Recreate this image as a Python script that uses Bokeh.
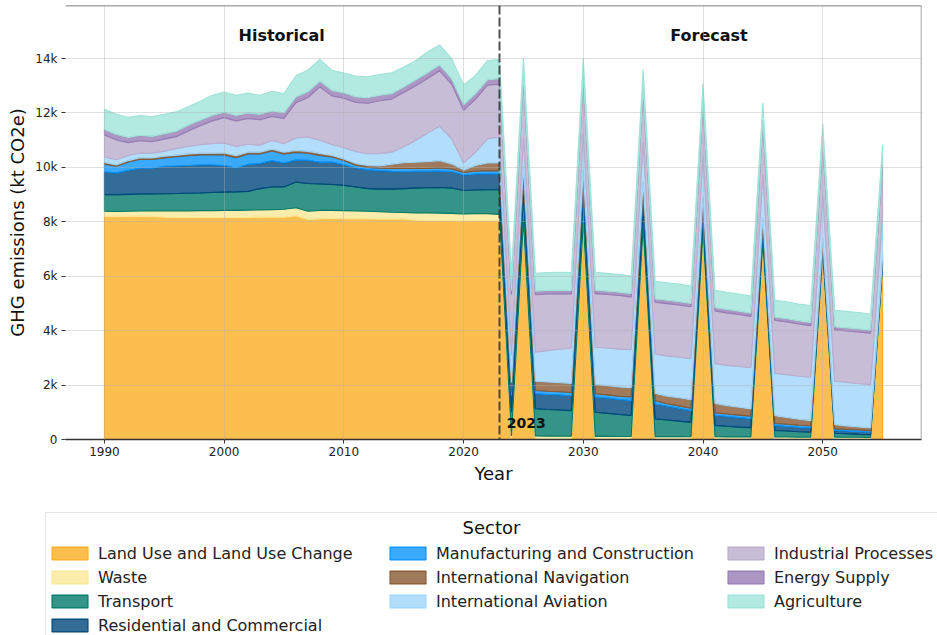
from bokeh.plotting import figure
from bokeh.layouts import column
from bokeh.models import (Range1d, FixedTicker, CustomJSTickFormatter, Span, Label,
                          Legend, LegendItem)
from bokeh.embed import file_html
from bokeh.resources import INLINE

years = list(range(1990, 2056))

sectors = ["Land Use and Land Use Change", "Waste", "Transport", "Residential and Commercial",
           "Manufacturing and Construction", "International Navigation", "International Aviation",
           "Industrial Processes", "Energy Supply", "Agriculture"]

colors = ["#FCAE24", "#F9E795", "#007969", "#00477C", "#0995FF",
          "#885931", "#9FD6FB", "#BAACCD", "#977CB5", "#9FE3D8"]

land_use = [8200, 8190, 8200, 8200, 8190, 8170, 8160, 8160, 8160, 8160, 8160, 8160, 8160, 8170, 8170,
            8170, 8220, 8080, 8110, 8120, 8110, 8110, 8110, 8100, 8100, 8100, 8060, 8050, 8050, 8040,
            8030, 8040, 8040, 8030,
            0, 7900, 0, 0, 0, 0, 7870, 0, 0, 0, 0, 7690, 0, 0, 0, 0, 7530, 0, 0, 0, 0, 7180,
            0, 0, 0, 0, 6770, 0, 0, 0, 0, 6280]
waste = [190, 190, 190, 200, 210, 230, 240, 240, 250, 250, 260, 260, 270, 270, 280, 290, 300, 310,
         310, 300, 300, 290, 280, 270, 250, 240, 270, 280, 270, 270, 260, 260, 260, 240,
         130, 130, 130, 125, 125, 120, 120, 115, 115, 110, 110, 110, 105, 105, 105, 100, 100,
         100, 95, 95, 95, 90, 90, 90, 85, 85, 85, 80, 80, 80, 75, 75]
transport = [610, 620, 620, 620, 620, 630, 640, 650, 650, 670, 670, 680, 690, 780, 830, 820, 940,
             1020, 970, 950, 930, 880, 830, 830, 850, 880, 910, 920, 940, 930, 860, 870, 880, 910,
             870, 970, 1000, 980, 960, 940, 900, 885, 845, 810, 770, 710, 650, 610, 570, 530, 470,
             420, 390, 360, 340, 290, 240, 220, 200, 180, 160, 150, 130, 110, 100, 90]
residential = [830, 800, 880, 950, 950, 1010, 1010, 1020, 1030, 1010, 980, 880, 990, 920, 970, 880,
               810, 850, 800, 830, 760, 700, 690, 680, 660, 630, 620, 610, 610, 610, 570, 590, 590,
               570,
               620, 560, 550, 550, 550, 550, 560, 560, 560, 550, 550, 550, 550, 510, 470, 430, 400,
               370, 360, 350, 330, 260, 180, 170, 160, 160, 130, 100, 100, 100, 90, 80]
manufacturing = [290, 240, 310, 330, 320, 310, 340, 360, 370, 370, 390, 380, 380, 350, 350, 330,
                 280, 260, 250, 180, 150, 100, 90, 90, 100, 110, 100, 100, 110, 90, 90, 100, 110,
                 120,
                 120, 120, 120, 120, 120, 120, 120, 120, 120, 120, 130, 120, 120, 90, 90, 90, 90,
                 90, 90, 90, 90, 90, 80, 80, 80, 80, 80, 60, 60, 60, 60, 60]
navigation = [60, 50, 50, 60, 60, 60, 60, 60, 60, 60, 70, 70, 70, 70, 70, 70, 70, 70, 70, 60, 60,
              60, 70, 80, 160, 210, 230, 250, 270, 190, 90, 210, 280, 290,
              360, 350, 340, 340, 330, 330, 340, 340, 340, 340, 340, 300, 270, 280, 300, 310, 330,
              340, 310, 290, 270, 270, 280, 250, 220, 190, 170, 150, 130, 110, 100, 90]
aviation = [200, 190, 190, 170, 170, 180, 240, 280, 310, 350, 370, 340, 290, 250, 320, 310, 460,
            520, 490, 400, 410, 440, 430, 450, 440, 580, 800, 1050, 1260, 920, 260, 490, 890, 950,
            1000, 1050, 1070, 1150, 1230, 1300, 1340, 1370, 1380, 1390, 1400, 1430, 1450, 1470,
            1490, 1510, 1490, 1470, 1480, 1500, 1510, 1540, 1560, 1570, 1580, 1590, 1600, 1600,
            1600, 1590, 1590, 1580]
industrial = [810, 730, 470, 450, 420, 450, 440, 570, 700, 840, 930, 940, 950, 940, 880, 930, 1300,
              1460, 1960, 1790, 1820, 1810, 1860, 1950, 1950, 2000, 2010, 2010, 2040, 2010, 1940,
              1950, 1970, 1950,
              2230, 2150, 2110, 2080, 2040, 1990, 1970, 1970, 1970, 1970, 1940, 1920, 1900, 1930,
              1920, 1910, 1910, 1930, 1930, 1910, 1890, 1910, 1950, 1940, 1920, 1900, 1880, 1890,
              1890, 1900, 1890, 1870]
energy = [200, 200, 190, 200, 200, 200, 200, 210, 200, 200, 200, 200, 200, 200, 200, 200, 210, 210,
          210, 200, 200, 200, 200, 200, 200, 200, 210, 210, 210, 200, 200, 200, 200, 200,
          150, 140, 130, 130, 130, 125, 125, 125, 120, 120, 120, 120, 120, 120, 120, 120, 120,
          120, 120, 120, 115, 115, 115, 115, 115, 115, 110, 110, 110, 110, 110, 110]
agriculture = [750, 740, 740, 730, 730, 710, 710, 680, 700, 740, 740, 740, 730, 700, 730, 710, 780,
               800, 800, 740, 730, 770, 770, 760, 770, 740, 710, 770, 740, 740, 730, 670, 710, 700,
               650, 650, 660, 660, 660, 660, 660, 660, 655, 650, 650, 650, 650, 645, 645, 640, 640,
               640, 635, 635, 630, 630, 630, 625, 620, 620, 615, 610, 610, 605, 600, 600]

series = [land_use, waste, transport, residential, manufacturing, navigation, aviation,
          industrial, energy, agriculture]

x_ticks = [1990, 2000, 2010, 2020, 2030, 2040, 2050]
y_ticks = [0, 2000, 4000, 6000, 8000, 10000, 12000, 14000]
split_year = 2023

FONT = "DejaVu Sans"
x0, x1 = 1986.75, 2058.25
y0, y1 = 0, 15950

# layer polygons (stacked)
polys = []
bottom = [0] * len(years)
for vals in series:
    top = [b + v for b, v in zip(bottom, vals)]
    polys.append((years + years[::-1], top + bottom[::-1]))
    bottom = top

p = figure(width=937, height=511, output_backend="svg", toolbar_location=None,
           x_range=Range1d(x0, x1), y_range=Range1d(y0, y1),
           min_border_left=65, min_border_right=16, min_border_top=5, min_border_bottom=72)
p.outline_line_color = None
p.background_fill_color = "white"
p.border_fill_color = "white"

for (xs, ys), col in zip(polys, colors):
    p.patch(xs, ys, fill_color=col, fill_alpha=0.8, line_color=col, line_width=1.1)

# axes
for ax in (p.xaxis, p.yaxis):
    ax.major_tick_in = 0
    ax.major_tick_out = 4
    ax.minor_tick_in = 0
    ax.minor_tick_out = 0
    ax.major_tick_line_color = "#333333"
    ax.major_label_text_font = FONT
    ax.major_label_text_font_size = "12px"
    ax.major_label_text_color = "#222222"
    ax.axis_label_text_font = FONT
    ax.axis_label_text_font_size = "18px"
    ax.axis_label_text_font_style = "normal"
    ax.axis_label_text_color = "#111111"
    ax.axis_label_standoff = 4

p.xaxis.ticker = FixedTicker(ticks=x_ticks)
p.yaxis.ticker = FixedTicker(ticks=y_ticks)
p.yaxis.formatter = CustomJSTickFormatter(code="return tick == 0 ? '0' : (tick/1000).toFixed(0) + 'k';")
p.xaxis.axis_label = "Year"
p.yaxis.axis_label = "GHG emissions (kt CO2e)"
p.yaxis.axis_line_color = None
p.xaxis.axis_line_color = "#333333"
p.xaxis.axis_line_width = 1.5
p.xaxis.major_label_standoff = 3
p.yaxis.major_label_standoff = 4

p.xgrid.ticker = FixedTicker(ticks=x_ticks)
p.ygrid.ticker = FixedTicker(ticks=y_ticks)
for g in (p.xgrid, p.ygrid):
    g.grid_line_color = "#b0b0b0"
    g.grid_line_alpha = 0.4
    g.level = "overlay"

# spines (top and right)
p.add_layout(Span(location=y1, dimension="width", line_color="#555555", line_width=1.5))
p.add_layout(Span(location=x1, dimension="height", line_color="#888888", line_width=1.5))

# forecast split
p.add_layout(Span(location=split_year, dimension="height", line_color="#333333",
                  line_alpha=0.85, line_width=2, line_dash="9 3"))

p.add_layout(Label(x=2004.8, y=14850, text="Historical", text_font=FONT, text_font_size="16px",
                   text_font_style="bold", text_align="center", text_baseline="middle",
                   text_color="#111111"))
p.add_layout(Label(x=2040.5, y=14850, text="Forecast", text_font=FONT, text_font_size="16px",
                   text_font_style="bold", text_align="center", text_baseline="middle",
                   text_color="#111111"))
p.add_layout(Label(x=split_year + 0.6, y=590, text=str(split_year), text_font=FONT,
                   text_font_size="14px", text_font_style="bold", text_align="left",
                   text_baseline="middle", text_color="#111111"))

# legend canvas below the plot
q = figure(width=937, height=124, output_backend="svg", toolbar_location=None,
           x_range=Range1d(0, 1), y_range=Range1d(0, 1),
           x_axis_location=None, y_axis_location=None,
           min_border_left=45, min_border_right=0, min_border_top=1, min_border_bottom=0)
q.grid.visible = False
q.outline_line_color = None
q.background_fill_color = "white"
q.border_fill_color = "white"

swatches = []
for (xs, ys), col in zip(polys, colors):
    swatches.append(q.patch(xs, ys, fill_color=col, fill_alpha=0.8, line_color=col,
                            line_width=1.1))

order = [0, 4, 7, 1, 5, 8, 2, 6, 9, 3]
items = [LegendItem(label=sectors[i], renderers=[swatches[i]]) for i in order]
legend = Legend(items=items, orientation="horizontal", ncols=3, location="top_left",
                title=" ", title_text_font=FONT, title_text_font_size="18px", title_standoff=8,
                label_text_font=FONT, label_text_font_size="16px", label_text_color="#222222",
                glyph_width=45, glyph_height=16, label_standoff=6, label_width=283,
                label_height=20, spacing=4, padding=1, margin=0,
                border_line_color="#cccccc", border_line_width=1,
                background_fill_alpha=0.0)
q.add_layout(legend, "center")
q.add_layout(Label(x=0.5, y=0.878, text="Sector", text_font=FONT, text_font_size="18px",
                   text_align="center", text_baseline="middle", text_color="#111111",
                   level="overlay"))

layout = column(p, column(q), spacing=0)
open("out.html", "w").write(file_html(layout, INLINE))
